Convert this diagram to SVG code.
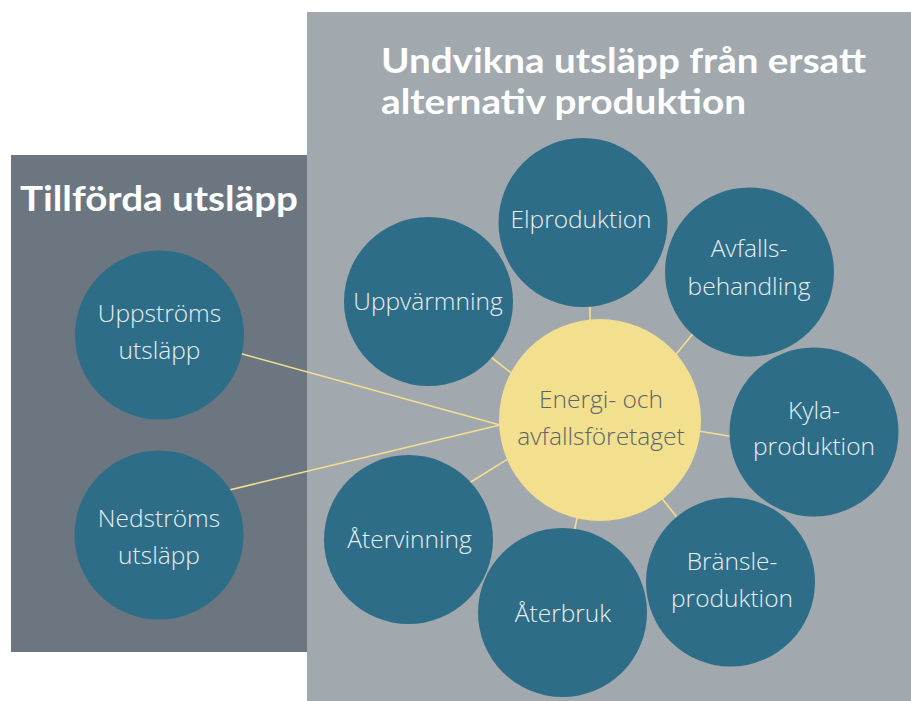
<svg xmlns="http://www.w3.org/2000/svg" width="911" height="701" viewBox="0 0 911 701">
<style>
.title{font-family:"Lato","Liberation Sans",sans-serif;font-weight:700;font-size:35px;fill:#ffffff}
.node{fill:#2e6d87}
.lbl{font-family:"Open Sans","Noto Sans",sans-serif;font-weight:300;font-size:24.5px;fill:#e8eff3;text-anchor:middle}
.clbl{font-family:"Open Sans","Noto Sans",sans-serif;font-weight:300;font-size:24.5px;fill:#5b646c;text-anchor:middle}
.conn line{stroke:#f3e08e;stroke-width:1.6;fill:none}
</style>
<rect x="0" y="0" width="911" height="701" fill="#ffffff"/>
<rect id="panel-right" x="307" y="12" width="604" height="689" fill="#a1a8ae"/>
<rect id="panel-left" x="11" y="155" width="296" height="497" fill="#6b7680"/>
<text class="title" x="20" y="211" textLength="278" lengthAdjust="spacingAndGlyphs">Tillförda utsläpp</text>
<text class="title" x="381" y="73" textLength="485" lengthAdjust="spacingAndGlyphs">Undvikna utsläpp från ersatt</text>
<text class="title" x="381" y="114" textLength="365" lengthAdjust="spacingAndGlyphs">alternativ produktion</text>
<g id="connectors" class="conn">
<line x1="235" y1="352" x2="500" y2="425"/>
<line x1="225" y1="491" x2="500" y2="425"/>
<line x1="590" y1="300" x2="590" y2="325"/>
<line x1="673" y1="358" x2="696" y2="330"/>
<line x1="487" y1="354" x2="514" y2="375"/>
<line x1="698" y1="431" x2="735" y2="437"/>
<line x1="660" y1="496" x2="680" y2="521"/>
<line x1="578" y1="514" x2="574" y2="532"/>
<line x1="466" y1="485" x2="511" y2="457"/>
</g>
<g id="n-upp"><circle class="node" cx="159.5" cy="335" r="84.5"/><text class="lbl" x="159.5" y="322">Uppströms</text><text class="lbl" x="159.5" y="359">utsläpp</text></g>
<g id="n-ned"><circle class="node" cx="159" cy="535" r="84.5"/><text class="lbl" x="159" y="527">Nedströms</text><text class="lbl" x="159" y="564">utsläpp</text></g>
<g id="n-el"><circle class="node" cx="583" cy="222.5" r="84.5"/><text class="lbl" x="581" y="228">Elproduktion</text></g>
<g id="n-avf"><circle class="node" cx="749.5" cy="272" r="84.5"/><text class="lbl" x="749" y="257">Avfalls-</text><text class="lbl" x="749" y="295">behandling</text></g>
<g id="n-uppv"><circle class="node" cx="428.5" cy="301.5" r="84.5"/><text class="lbl" x="428" y="310">Uppvärmning</text></g>
<g id="n-kyla"><circle class="node" cx="814" cy="432" r="84.5"/><text class="lbl" x="814" y="419">Kyla-</text><text class="lbl" x="814" y="455">produktion</text></g>
<g id="n-bransle"><circle class="node" cx="730.5" cy="582" r="84.5"/><text class="lbl" x="732" y="570">Bränsle-</text><text class="lbl" x="732" y="607">produktion</text></g>
<g id="n-aterbruk"><circle class="node" cx="562.5" cy="612.5" r="84.5"/><text class="lbl" x="563" y="622">Återbruk</text></g>
<g id="n-atervinning"><circle class="node" cx="408.5" cy="539.5" r="84.5"/><text class="lbl" x="409.5" y="548">Återvinning</text></g>
<g id="n-center"><circle cx="600" cy="420" r="101" fill="#f3e08e"/><text class="clbl" x="601" y="408">Energi- och</text><text class="clbl" x="601" y="445">avfallsföretaget</text></g>
</svg>
